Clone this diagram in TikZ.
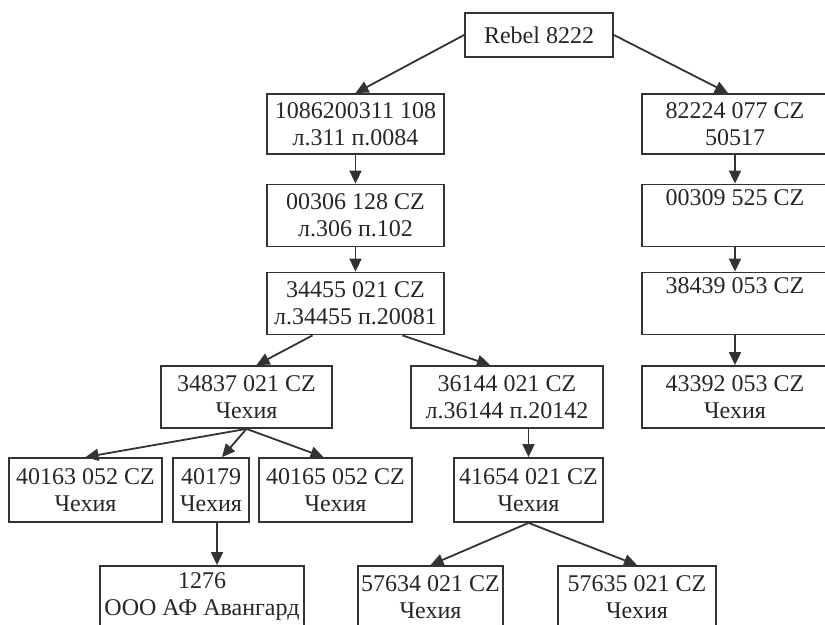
\documentclass[tikz,border=0pt]{standalone}
\usepackage{fontspec}
\setmainfont{Liberation Serif}
\usetikzlibrary{arrows.meta}
\begin{document}
\begin{tikzpicture}[
  x=0.5pt, y=-0.5pt,
  every node/.style={font=\fontsize{12}{13.5}\selectfont, text=black!85},
  cert/.style={rectangle, draw=black!80, line width=0.9pt, align=center, inner sep=0pt, minimum height=31pt},
  link/.style={-{Triangle[length=6.5pt,width=6pt]}, line width=0.9pt, black!80},
]
\useasboundingbox (0,0) rectangle (825,625);
\clip (0,0) rectangle (825,625);

% root
\node[cert, minimum width=74pt, minimum height=22pt] (rebel) at (539,35) {Rebel 8222};

% left chain
\node[cert, minimum width=88.5pt, minimum height=30pt] (c1086) at (355.5,124) {1086200311 108\\л.311 п.0084};
\node[cert, minimum width=88.5pt] (c00306) at (355.5,215.5) {00306 128 CZ\\л.306 п.102};
\node[cert, minimum width=88.5pt] (c34455) at (355.5,303.5) {34455 021 CZ\\л.34455 п.20081};
\node[cert, minimum width=85.5pt] (c34837) at (246.5,397) {34837 021 CZ\\Чехия};
\node[cert, minimum width=96pt] (c36144) at (507,397) {36144 021 CZ\\л.36144 п.20142};
\node[cert, minimum width=76.5pt, minimum height=32pt] (c40163) at (85.5,490) {40163 052 CZ\\Чехия};
\node[cert, minimum width=38pt, minimum height=32pt] (c40179) at (211,490) {40179\\Чехия};
\node[cert, minimum width=76.5pt, minimum height=32pt] (c40165) at (335.5,490) {40165 052 CZ\\Чехия};
\node[cert, minimum width=74.5pt, minimum height=32pt] (c41654) at (528.5,490) {41654 021 CZ\\Чехия};
\node[cert, minimum width=102pt] (c1276) at (202,597) {1276\\ООО АФ Авангард};
\node[cert, minimum width=72.5pt] (c57634) at (430.5,597) {57634 021 CZ\\Чехия};
\node[cert, minimum width=79pt] (c57635) at (637,597) {57635 021 CZ\\Чехия};

% right chain
\node[cert, minimum width=93pt, minimum height=30pt] (c82224) at (735,124) {82224 077 CZ\\50517};
\node[cert, minimum width=93pt] (c00309) at (735,215.5) {00309 525 CZ\\\strut};
\node[cert, minimum width=93pt] (c38439) at (735,303.5) {38439 053 CZ\\\strut};
\node[cert, minimum width=93pt] (c43392) at (735,397) {43392 053 CZ\\Чехия};

\draw[link] (rebel.west) -- (c1086.north);
\draw[link] (rebel.east) -- ([xshift=-3.5pt]c82224.north);
\draw[link] (c1086) -- (c00306);
\draw[link] (c00306) -- (c34455);
\draw[link] ([xshift=-21.5pt]c34455.south) -- ([xshift=5pt]c34837.north);
\draw[link] ([xshift=23.5pt]c34455.south) -- ([xshift=-8.5pt]c36144.north);
\draw[link] (c34837.south) -- (c40163.north);
\draw[link] (c34837.south) -- ([xshift=5.5pt]c40179.north);
\draw[link] (c34837.south) -- ([xshift=-6pt]c40165.north);
\draw[link] ([xshift=3pt]c40179.south) -- ([xshift=3pt]c40179.south |- c1276.north);
\draw[link] (c41654.north |- c36144.south) -- (c41654.north);
\draw[link] (c41654.south) -- (c57634.north);
\draw[link] (c41654.south) -- (c57635.north);
\draw[link] (c82224) -- (c00309);
\draw[link] (c00309) -- (c38439);
\draw[link] (c38439) -- (c43392);

\end{tikzpicture}
\end{document}
